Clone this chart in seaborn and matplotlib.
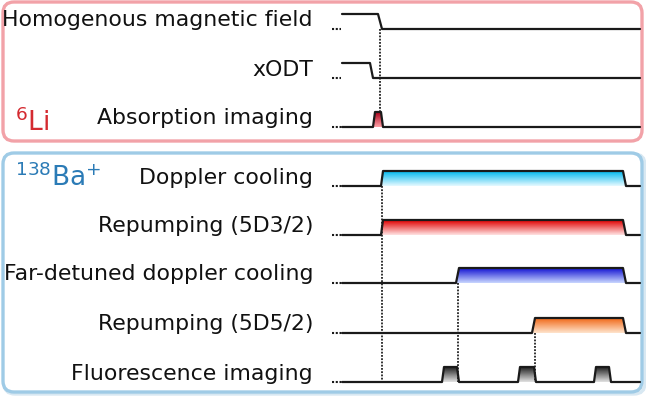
import numpy as np
import pandas as pd
import matplotlib
matplotlib.use("Agg")
import matplotlib.pyplot as plt
import seaborn as sns
from matplotlib.patches import FancyBboxPatch, Polygon
from matplotlib.colors import LinearSegmentedColormap

sns.set_theme(style="white")
plt.rcParams['font.family'] = ['DejaVu Sans']

# ---- data -------------------------------------------------------------
channels = ["Homogenous magnetic field", "xODT", "Absorption imaging",
            "Doppler cooling", "Repumping (5D3/2)", "Far-detuned doppler cooling",
            "Repumping (5D5/2)", "Fluorescence imaging"]
panel = ["Li", "Li", "Li", "Ba", "Ba", "Ba", "Ba", "Ba"]

# time points (arbitrary units) and logical level of each channel
t_mag = [342, 378, 382, 640]
l_mag = [1, 1, 0, 0]
t_odt = [342, 370, 373, 640]
l_odt = [1, 1, 0, 0]
t_abs = [342, 373, 375, 381, 383, 640]
l_abs = [0, 0, 1, 1, 0, 0]
t_dop = [342, 381, 383, 623, 626, 640]
l_dop = [0, 0, 1, 1, 0, 0]
t_rep32 = [342, 381, 383, 623, 626, 640]
l_rep32 = [0, 0, 1, 1, 0, 0]
t_far = [342, 456, 459, 623, 626, 640]
l_far = [0, 0, 1, 1, 0, 0]
t_rep52 = [342, 532, 535, 623, 626, 640]
l_rep52 = [0, 0, 1, 1, 0, 0]
t_flu = [342, 442, 444, 457, 459, 518, 520, 534, 536, 594, 596, 609, 611, 640]
l_flu = [0, 0, 1, 1, 0, 0, 1, 1, 0, 0, 1, 1, 0, 0]

times = [t_mag, t_odt, t_abs, t_dop, t_rep32, t_far, t_rep52, t_flu]
levels = [l_mag, l_odt, l_abs, l_dop, l_rep32, l_far, l_rep52, l_flu]

# gradient colours (top, bottom) for the "on" pulses
fills = [None, None, ("#a8001a", "#ffa0a6"), ("#00b8ee", "#e6f9ff"),
         ("#e00000", "#ffe2e2"), ("#1414d2", "#c8d6ff"),
         ("#f06818", "#ffe4cc"), ("#222222", "#e2e2e2")]

# dotted time markers: (time, from channel, to channel)
markers = [(380, 0, 2), (382, 3, 7), (458, 5, 7), (535, 6, 7)]

# ---- layout -----------------------------------------------------------
baseline = [29, 78, 127, 186, 235, 283, 333, 382]
amp = 15

fig = plt.figure(figsize=(6.46, 3.98), dpi=100)
ax = fig.add_axes([0, 0, 1, 1])
ax.set_xlim(0, 646)
ax.set_ylim(398, 0)
ax.axis("off")

# panels
ax.add_patch(FancyBboxPatch((3, 2), 639, 139, boxstyle="round,pad=0,rounding_size=11",
                            fc="white", ec="#f2a2a8", lw=2.4, zorder=0))
ax.add_patch(FancyBboxPatch((4, 154), 641, 240, boxstyle="round,pad=0,rounding_size=11",
                            fc="none", ec="#d8e8f2", lw=2.4, zorder=0))
ax.add_patch(FancyBboxPatch((3, 153), 639, 239, boxstyle="round,pad=0,rounding_size=11",
                            fc="white", ec="#9fcbe6", lw=2.4, zorder=0))

# waveforms
rows = []
for i, (ts, ls) in enumerate(zip(times, levels)):
    for t, l in zip(ts, ls):
        rows.append({"channel": channels[i], "t": t, "y": baseline[i] - amp * l})
df = pd.DataFrame(rows)

# gradient fills
for i, (ts, ls) in enumerate(zip(times, levels)):
    if fills[i] is None:
        continue
    cmap = LinearSegmentedColormap.from_list("g", [fills[i][0], fills[i][1]])
    j = 0
    while j < len(ts) - 1:
        if ls[j] == 0 and ls[j + 1] == 1:
            k = j + 1
            while ls[k + 1] == 1:
                k += 1
            x0, x1, x2, x3 = ts[j], ts[j + 1], ts[k], ts[k + 1]
            yb, yt = baseline[i], baseline[i] - amp
            poly = Polygon([(x0, yb), (x1, yt), (x2, yt), (x3, yb)], closed=True,
                           fc="none", ec="none")
            ax.add_patch(poly)
            grad = np.linspace(0, 1, 64).reshape(-1, 1)
            im = ax.imshow(grad, cmap=cmap, aspect="auto",
                           extent=[x0, x3, yb, yt], origin="upper", zorder=1)
            im.set_clip_path(poly)
            j = k + 1
        else:
            j += 1

sns.lineplot(data=df, x="t", y="y", units="channel", estimator=None, sort=False,
             color="#1a1a1a", lw=1.6, legend=False, ax=ax, zorder=3)
ax.set_xlim(0, 646)
ax.set_ylim(398, 0)
ax.axis("off")

# leading dots
for i in range(len(channels)):
    ax.plot([332, 341], [baseline[i], baseline[i]], color="#1a1a1a", lw=1.5,
            ls=(0, (1, 0.8)), zorder=3)

# dotted markers
for t, a, b in markers:
    ax.plot([t, t], [baseline[a], baseline[b] - (amp if (t == 380) else 0)],
            color="#222222", lw=1.3, ls=(0, (1, 0.8)), zorder=2)

# labels
for i, name in enumerate(channels):
    ax.text(313, baseline[i] - amp / 2 - 1, name, ha="right", va="center",
            fontsize=15.8, color="#111111", zorder=4)

ax.text(15, 123, r"$^{6}$Li", ha="left", va="center", fontsize=19,
        color="#d42a30", zorder=4)
ax.text(15, 178, r"$^{138}$Ba$^{+}$", ha="left", va="center", fontsize=19,
        color="#2b7bb6", zorder=4)

fig.savefig("out.png", dpi=100)
